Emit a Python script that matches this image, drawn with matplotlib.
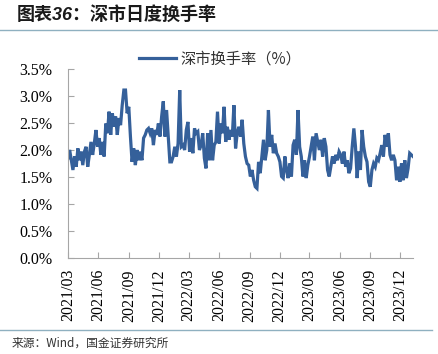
import matplotlib
matplotlib.use("Agg")
import matplotlib.pyplot as plt
from matplotlib.lines import Line2D
import pandas as pd

# ---- data (% daily turnover) ----
turnover_part1 = [1.85, 2.00, 1.81, 1.63, 1.88, 1.69, 2.03, 1.81, 1.97, 1.72, 1.97, 2.06,
                  1.69, 1.91, 2.15, 1.91, 2.12, 2.37, 2.06, 2.22, 1.91, 2.15, 1.88, 2.49,
                  2.31, 2.71, 2.28, 2.68, 2.43, 2.62, 2.28, 2.59, 2.46, 2.83, 3.11, 3.11,
                  2.68, 2.80, 2.25, 1.78, 2.03, 1.72, 2.00, 1.81, 1.97, 1.81, 2.22, 2.28,
                  2.37, 2.40, 2.31, 2.40, 2.09, 2.37, 2.28, 2.49, 2.25, 2.62, 2.90, 2.25,
                  2.74, 2.25, 1.78, 1.78, 1.88, 2.06, 1.88, 2.12, 3.11, 2.06, 2.09]
turnover_part2 = [2.00, 2.37, 2.52, 1.97, 2.22, 1.94, 2.40, 2.31, 2.34, 2.00, 2.09, 2.31,
                  1.85, 1.66, 2.31, 1.81, 2.37, 1.81, 2.09, 2.15, 2.71, 2.12, 2.49, 2.31,
                  2.80, 2.15, 2.43, 2.19, 2.37, 2.25, 2.83, 2.03, 2.31, 2.43, 2.25, 2.56,
                  2.12, 1.88, 1.75, 1.72, 1.51, 1.63, 1.44, 1.32, 1.29, 1.78, 1.57, 1.88,
                  2.19, 1.81, 2.00, 2.74, 2.06, 2.28, 1.94, 2.12, 1.94, 1.88, 1.78, 1.51,
                  1.48, 1.88, 1.63, 1.48, 1.75, 1.51, 2.09, 2.19, 1.91, 2.74, 2.06]
turnover_part3 = [1.88, 1.51, 1.81, 1.48, 1.72, 1.88, 2.06, 2.25, 1.81, 2.31, 2.15, 2.00,
                  2.19, 1.88, 2.22, 2.06, 1.63, 1.51, 1.69, 1.88, 1.75, 1.91, 1.81, 1.97,
                  1.91, 1.75, 1.97, 1.69, 1.81, 1.57, 1.66, 2.06, 2.40, 2.06, 1.48, 1.97,
                  1.63, 2.37, 2.06, 1.88, 1.78, 1.41, 1.32, 1.63, 1.75, 1.69, 1.85, 1.81,
                  1.94, 2.09, 1.88, 2.28, 2.06, 2.31, 1.91, 1.81, 1.91, 1.81, 1.44, 1.69,
                  1.41, 1.75, 1.44, 1.81, 1.48, 1.66, 1.94, 1.91, 1.88]
turnover = turnover_part1 + turnover_part2 + turnover_part3
start_date = "2021-03-01"
end_date = "2024-01-08"
tick_labels = ["2021/03", "2021/06", "2021/09", "2021/12", "2022/03", "2022/06",
               "2022/09", "2022/12", "2023/03", "2023/06", "2023/09", "2023/12"]
yticks = [0.0, 0.5, 1.0, 1.5, 2.0, 2.5, 3.0, 3.5]

series_name = "深市换手率（%）"
title = "图表36：深市日度换手率"
source = "来源：Wind，国金证券研究所"

dates = pd.date_range(start_date, end_date, periods=len(turnover))
tick_dates = pd.to_datetime([t.replace("/", "-") + "-01" for t in tick_labels])

W, H = 438, 354
fig = plt.figure(figsize=(W / 100, H / 100), dpi=100)
ax = fig.add_axes([68 / W, 1 - 258 / H, (413 - 68) / W, (258 - 69) / H])

line_color = "#35609A"
ax.plot(dates, turnover, color=line_color, lw=2.3, solid_joinstyle="miter")

ax.set_xlim(pd.Timestamp(start_date), pd.Timestamp(end_date))
ax.set_ylim(0, 3.5)
ax.set_yticks(yticks)
ax.set_yticklabels([f"{v:.1f}%" for v in yticks])
ax.set_xticks(tick_dates)
ax.set_xticklabels(tick_labels, rotation=90)

serif = "Liberation Serif"
for lab in ax.get_xticklabels() + ax.get_yticklabels():
    lab.set_fontfamily(serif)
    lab.set_fontsize(11.5)
    lab.set_color("black")

spine_color = "#A6A6A6"
for s in ["top", "right"]:
    ax.spines[s].set_visible(False)
for s in ["left", "bottom"]:
    ax.spines[s].set_color(spine_color)
    ax.spines[s].set_linewidth(0.8)
ax.tick_params(axis="y", direction="in", length=4, color=spine_color, pad=11)
ax.tick_params(axis="x", direction="in", length=4, color=spine_color, pad=8)

# legend
handle = Line2D([0], [0], color=line_color, lw=2.3)
leg = fig.legend([handle], [series_name], loc="center", bbox_to_anchor=(220 / W, 1 - 59 / H),
                 frameon=False, handlelength=2.4, handletextpad=0.3,
                 prop={"family": ["Noto Sans CJK SC", "DejaVu Sans"], "size": 11})
for t in leg.get_texts():
    t.set_color("#333333")

# title, separators, source
fig.text(17 / W, 1 - 15 / H, title, ha="left", va="center", fontsize=13,
         fontweight="bold", style="italic",
         family=["Liberation Sans", "Noto Sans CJK SC"], color="#1a1a1a")
fig.add_artist(Line2D([0, 1], [1 - 30 / H, 1 - 30 / H], transform=fig.transFigure,
                      color="#8FB0C0", lw=1.0))
fig.add_artist(Line2D([0, 432 / W], [1 - 330 / H, 1 - 330 / H], transform=fig.transFigure,
                      color="#8FB0C0", lw=1.0))
fig.text(12 / W, 1 - 343 / H, source, ha="left", va="center", fontsize=8.5,
         family=["Noto Sans CJK SC", "DejaVu Sans"], color="#333333")

fig.savefig("out.png", dpi=100)
